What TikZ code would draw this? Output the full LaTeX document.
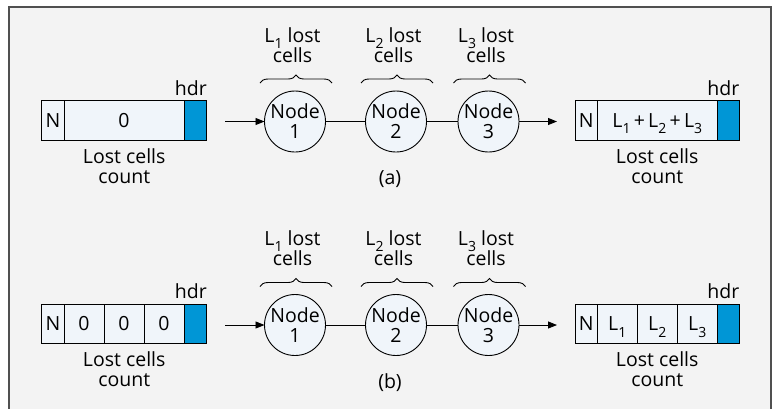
\documentclass[tikz,border=0pt]{standalone}
\usepackage{fontspec}
\setmainfont{Open Sans}
\usetikzlibrary{arrows.meta,decorations.pathreplacing}
\definecolor{bg}{HTML}{F3F3F3}
\definecolor{framegray}{HTML}{505050}
\definecolor{cellfill}{HTML}{F0F5FA}
\definecolor{hdrblue}{HTML}{0096D6}
\newcommand\lsub[1]{\smash{\raisebox{-0.32em}{\fontsize{14}{14}\selectfont #1}}}
\newcommand\rowcommon[2]{%
  \node[nodecirc] (#1n1) at (295,0) {Node\\1};
  \node[nodecirc] (#1n2) at (396,0) {Node\\2};
  \node[nodecirc] (#1n3) at (488.5,0) {Node\\3};
  \coordinate (#1s) at (225,0);
  \coordinate (#1e) at (557,0);
  \draw[arr] (#1s) -- (#1n1);
  \draw[link] (#1n1) -- (#1n2);
  \draw[link] (#1n2) -- (#1n3);
  \draw[arr] (#1n3) -- (#1e);
  \foreach \k in {1,2,3}{%
    \draw[bracestyle] ([xshift=-35pt,yshift=8pt]#1n\k.north) -- ([xshift=37pt,yshift=8pt]#1n\k.north);
    \node[lbl] (#1t\k) at ([xshift=-2.5pt,yshift=46.2pt]#1n\k.north) {L\lsub{\k} lost\\cells};
  }
  \node (#1cap) at (390,57.5) {#2};
}
\begin{document}
\begin{tikzpicture}[x=1pt,y=-1pt,
  every node/.style={font=\fontsize{19.5}{20}\selectfont, inner sep=0pt, outer sep=0pt},
  cellbox/.style={draw=black, line width=0.9pt, fill=cellfill, minimum height=39.3pt, anchor=west},
  hdrbox/.style={cellbox, fill=hdrblue},
  nodecirc/.style={circle, draw=black, line width=0.9pt, fill=cellfill, minimum size=61pt, align=center},
  lbl/.style={align=center},
  link/.style={line width=0.9pt},
  arr/.style={line width=0.9pt, -{Triangle[length=9pt,width=7pt]}},
  bracestyle/.style={decorate, decoration={brace, amplitude=8pt}, line width=0.9pt}
]
\useasboundingbox (0,0) rectangle (773,408);
\clip (0,0) rectangle (773,408);
\draw[framegray, line width=1.5pt, fill=bg] (9,7) rectangle (771,430);

% ---------- row (a)
\begin{scope}[shift={(0,121.5)}]
  \rowcommon{a}{(a)}
  \node[cellbox, minimum width=22.3pt] (aLN) at (41.7,-1.15) {N};
  \node[cellbox, minimum width=120pt] (aLC) at (aLN.east) {0};
  \node[hdrbox, minimum width=22.7pt] (aLH) at (aLC.east) {};
  \node[anchor=base east] (aLhdr) at ([yshift=5.7pt]aLH.north east) {hdr};
  \node[lbl] (aLlbl) at (124.2,44.3) {Lost cells\\count};
  \node[cellbox, minimum width=22.3pt] (aRN) at (575,-1.15) {N};
  \node[cellbox, minimum width=120pt] (aRC) at (aRN.east) {L\lsub{1}\,+\,L\lsub{2}\,+\,L\lsub{3}};
  \node[hdrbox, minimum width=22pt] (aRH) at (aRC.east) {};
  \node[anchor=base east] (aRhdr) at ([yshift=5.7pt]aRH.north east) {hdr};
  \node[lbl] (aRlbl) at (657.2,44.3) {Lost cells\\count};
\end{scope}

% ---------- row (b)
\begin{scope}[shift={(0,325)}]
  \rowcommon{b}{(b)}
  \node[cellbox, minimum width=22.3pt] (bLN) at (41.7,-1.15) {N};
  \node[cellbox, minimum width=40pt] (bLC1) at (bLN.east) {0};
  \node[cellbox, minimum width=40pt] (bLC2) at (bLC1.east) {0};
  \node[cellbox, minimum width=40pt] (bLC3) at (bLC2.east) {0};
  \node[hdrbox, minimum width=22.7pt] (bLH) at (bLC3.east) {};
  \node[anchor=base east] (bLhdr) at ([yshift=5.7pt]bLH.north east) {hdr};
  \node[lbl] (bLlbl) at (124.2,44.3) {Lost cells\\count};
  \node[cellbox, minimum width=22.3pt] (bRN) at (575,-1.15) {N};
  \node[cellbox, minimum width=40pt] (bRC1) at (bRN.east) {L\lsub{1}};
  \node[cellbox, minimum width=40pt] (bRC2) at (bRC1.east) {L\lsub{2}};
  \node[cellbox, minimum width=40pt] (bRC3) at (bRC2.east) {L\lsub{3}};
  \node[hdrbox, minimum width=22pt] (bRH) at (bRC3.east) {};
  \node[anchor=base east] (bRhdr) at ([yshift=5.7pt]bRH.north east) {hdr};
  \node[lbl] (bRlbl) at (657.2,44.3) {Lost cells\\count};
\end{scope}
\end{tikzpicture}
\end{document}
